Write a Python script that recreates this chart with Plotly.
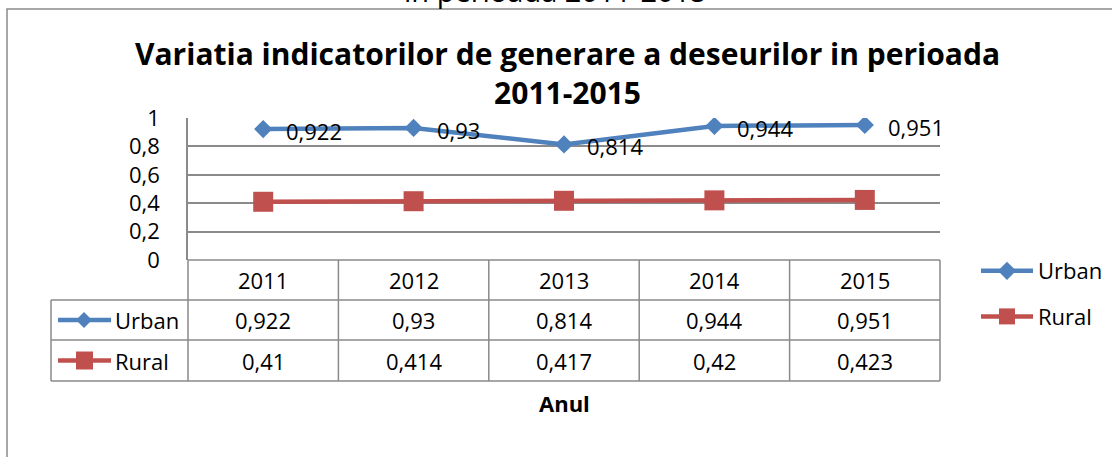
import plotly.graph_objects as go

# Data
years = ["2011", "2012", "2013", "2014", "2015"]
urban = [0.922, 0.93, 0.814, 0.944, 0.951]
rural = [0.41, 0.414, 0.417, 0.42, 0.423]
series_names = ["Urban", "Rural"]
y_ticks = [0, 0.2, 0.4, 0.6, 0.8, 1]

W, H = 1112, 457
BLUE = "#4F81BD"
RED = "#C0504D"
GRID = "#8A8A8A"
FONT = "Open Sans"


def px(x):
    return x / W


def py(y):
    return 1 - y / H


def fmt(v):
    return ("%g" % v).replace(".", ",")


# plot area in pixels
X0, X1 = 188, 940
Y_TOP, Y_ZERO = 118, 260
ROW_H = [260, 300, 340, 381]
TABLE_LEFT = 51

fig = go.Figure()

fig.add_trace(go.Scatter(
    x=years, y=urban, name=series_names[0], mode="lines+markers",
    line=dict(color=BLUE, width=4.5),
    marker=dict(symbol="diamond", size=14, color=BLUE),
    legendgroup="u",
))
fig.add_trace(go.Scatter(
    x=years, y=rural, name=series_names[1], mode="lines+markers",
    line=dict(color=RED, width=4.5),
    marker=dict(symbol="square", size=20, color=RED),
    legendgroup="r",
))

shapes = []
annotations = []


def note(x, y, text, font, xanchor="center", yanchor="middle", **kw):
    annotations.append(dict(x=x, y=y, text=text, showarrow=False, font=font,
                            xanchor=xanchor, yanchor=yanchor, **kw))


label_font = dict(family=FONT, size=22, color="black")

# value labels next to the Urban points (category index positions)
for i, v in enumerate(urban):
    note(i, v, fmt(v), label_font, xanchor="left", xref="x", yref="y", xshift=21, yshift=-2)

# outer chart frame
shapes.append(dict(type="rect", xref="paper", yref="paper",
                   x0=px(7), x1=px(1125), y0=py(9), y1=py(470),
                   line=dict(color=GRID, width=1.5), layer="below"))

# data table grid
col_edges = [X0 + i * (X1 - X0) / len(years) for i in range(len(years) + 1)]
line_style = dict(color=GRID, width=1.5)
shapes.append(dict(type="line", xref="paper", yref="paper",
                   x0=px(X0), x1=px(X1), y0=py(ROW_H[0]), y1=py(ROW_H[0]), line=line_style))
for yy in ROW_H[1:]:
    shapes.append(dict(type="line", xref="paper", yref="paper",
                       x0=px(TABLE_LEFT), x1=px(X1), y0=py(yy), y1=py(yy), line=line_style))
for xx in col_edges:
    shapes.append(dict(type="line", xref="paper", yref="paper",
                       x0=px(xx), x1=px(xx), y0=py(ROW_H[0]), y1=py(ROW_H[-1]), line=line_style))
shapes.append(dict(type="line", xref="paper", yref="paper",
                   x0=px(TABLE_LEFT), x1=px(TABLE_LEFT), y0=py(ROW_H[1]), y1=py(ROW_H[-1]), line=line_style))

for i, yr in enumerate(years):
    cx = (col_edges[i] + col_edges[i + 1]) / 2
    note(px(cx), py((ROW_H[0] + ROW_H[1]) / 2), yr, label_font, xref="paper", yref="paper")
for r, (vals, name) in enumerate([(urban, series_names[0]), (rural, series_names[1])]):
    cy = (ROW_H[r + 1] + ROW_H[r + 2]) / 2
    for i, v in enumerate(vals):
        cx = (col_edges[i] + col_edges[i + 1]) / 2
        note(px(cx), py(cy), fmt(v), label_font, xref="paper", yref="paper")
    note(px(113), py(cy), name, label_font, xanchor="left", xref="paper", yref="paper")

# legend keys inside the table
uy = (ROW_H[1] + ROW_H[2]) / 2
ry = (ROW_H[2] + ROW_H[3]) / 2
shapes.append(dict(type="line", xref="paper", yref="paper", x0=px(58), x1=px(111),
                   y0=py(uy), y1=py(uy), line=dict(color=BLUE, width=4.5)))
shapes.append(dict(type="path", xref="paper", yref="paper",
                   path="M {a},{b} L {c},{d} L {a},{e} L {f},{d} Z".format(
                       a=px(84), b=py(uy - 8), c=px(92), d=py(uy), e=py(uy + 8), f=px(76)),
                   fillcolor=BLUE, line=dict(color=BLUE, width=0)))
shapes.append(dict(type="line", xref="paper", yref="paper", x0=px(58), x1=px(111),
                   y0=py(ry), y1=py(ry), line=dict(color=RED, width=4.5)))
shapes.append(dict(type="rect", xref="paper", yref="paper", x0=px(76), x1=px(93),
                   y0=py(ry - 9), y1=py(ry + 9), fillcolor=RED, line=dict(color=RED, width=0)))

# axis title below the table
note(px((X0 + X1) / 2), py(403), "<b>Anul</b>", label_font, xref="paper", yref="paper")

# partially visible heading above the chart frame
note(px(555), py(-10), "in perioada 2011-2015", dict(family=FONT, size=29, color="black"),
     xref="paper", yref="paper")

# chart title
note(px(567), py(73),
     "<b>Variatia indicatorilor de generare a deseurilor in perioada<br>2011-2015</b>",
     dict(family=FONT, size=30, color="black"), xref="paper", yref="paper")

fig.update_layout(
    width=W, height=H,
    margin=dict(l=0, r=0, t=0, b=0, autoexpand=False),
    paper_bgcolor="white", plot_bgcolor="white",
    separators=",.",
    showlegend=True,
    legend=dict(x=px(976), y=py(250), xanchor="left", yanchor="top",
                font=dict(family=FONT, size=22, color="black"),
                itemwidth=52, tracegroupgap=14, traceorder="grouped",
                bgcolor="rgba(0,0,0,0)"),
    xaxis=dict(domain=[px(X0), px(X1)], type="category", range=[-0.5, len(years) - 0.5],
               showticklabels=False, showgrid=False, zeroline=False, showline=False, ticks="",
               automargin=False),
    yaxis=dict(domain=[py(Y_ZERO), py(Y_TOP)], range=[0, 1], tickvals=y_ticks,
               showgrid=True, gridcolor=GRID, gridwidth=1.5, zeroline=False,
               showline=True, linecolor=GRID, linewidth=1.5, ticks="",
               ticklabelstandoff=22, automargin=False,
               tickfont=dict(family=FONT, size=22, color="black")),
    shapes=shapes,
    annotations=annotations,
)

fig.write_html("out.html")
